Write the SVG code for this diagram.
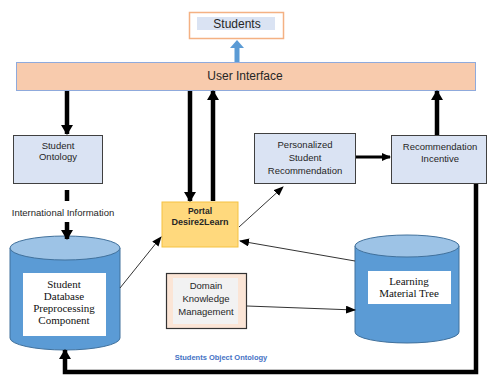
<svg xmlns="http://www.w3.org/2000/svg" width="488" height="375" viewBox="0 0 488 375">
<style>
text{font-family:"Liberation Sans","Open Sans",sans-serif;fill:#262626;text-anchor:middle}
.box{fill:#dae3f3;stroke:#404040;stroke-width:1}
.t9{font-size:9.5px}
.serif{font-family:"Liberation Serif","DejaVu Serif",serif;font-size:11px;fill:#111}
.thick{stroke:#000;stroke-width:4.5;fill:none}
.thin{stroke:#333;stroke-width:1;fill:none}
.cylbody{fill:#5b9bd5;stroke:#41719c;stroke-width:1}
.cyltop{fill:#9dc3e6;stroke:#41719c;stroke-width:1}
</style>
<defs>
<marker id="ah" markerUnits="userSpaceOnUse" markerWidth="12" markerHeight="12" refX="9" refY="6" orient="auto">
<path d="M0,0 L10,6 L0,12 z" fill="#000"/>
</marker>
<marker id="ahs" markerUnits="userSpaceOnUse" markerWidth="10" markerHeight="10" refX="8" refY="4" orient="auto">
<path d="M0,0 L9,4 L0,8 z" fill="#000"/>
</marker>
<marker id="at" markerUnits="userSpaceOnUse" markerWidth="10" markerHeight="10" refX="9" refY="4" orient="auto">
<path d="M0,0 L10,4 L0,8 z" fill="#000"/>
</marker>
</defs>

<g id="students">
<rect x="189.5" y="12.5" width="94" height="26" fill="#fff" stroke="#f4b183" stroke-width="1.5"/>
<rect x="197" y="17" width="78" height="13" fill="#dae3f3"/>
<text x="237" y="28" font-size="12">Students</text>
</g>

<g id="user-interface">
<rect x="16.5" y="62.5" width="459" height="28" fill="#f8cbad" stroke="#8faadc" stroke-width="1"/>
<text x="245" y="80" font-size="12">User Interface</text>
</g>

<g id="student-ontology">
<rect class="box" x="13.5" y="135.5" width="89" height="48"/>
<text class="t9" x="58" y="149">Student</text>
<text class="t9" x="58" y="160">Ontology</text>
</g>

<g id="portal">
<rect x="162" y="202" width="76" height="45" fill="#ffd97d" stroke="#f5c242" stroke-width="1"/>
<text x="200" y="214" font-size="8.5" font-weight="bold">Portal</text>
<text x="200" y="225" font-size="9" font-weight="bold">Desire2Learn</text>
</g>

<g id="personalized-recommendation">
<rect class="box" x="254.5" y="133.5" width="101" height="50"/>
<text class="t9" x="305" y="148">Personalized</text>
<text class="t9" x="305" y="161">Student</text>
<text class="t9" x="305" y="174">Recommendation</text>
</g>

<g id="recommendation-incentive">
<rect class="box" x="391.5" y="135.5" width="95" height="48"/>
<text class="t9" x="440" y="150">Recommendation</text>
<text class="t9" x="440" y="162">Incentive</text>
</g>

<g id="student-database">
<path class="cylbody" d="M10,248 V338 A55,12 0 0 0 120,338 V248 Z"/>
<ellipse class="cyltop" cx="65" cy="248" rx="55" ry="12"/>
<rect x="23" y="273" width="83" height="63" fill="#fff"/>
<text class="serif" x="64" y="288">Student</text>
<text class="serif" x="64" y="300">Database</text>
<text class="serif" x="64" y="312">Preprocessing</text>
<text class="serif" x="64" y="324">Component</text>
</g>

<g id="domain-knowledge">
<rect x="166.5" y="273.5" width="80" height="55" fill="#fbe5d6" stroke="#333" stroke-width="1.2"/>
<rect x="173" y="278" width="65" height="46" fill="#f2f2f2"/>
<text class="t9" x="206" y="289">Domain</text>
<text class="t9" x="206" y="302">Knowledge</text>
<text class="t9" x="206" y="315">Management</text>
</g>

<g id="learning-material-tree">
<path class="cylbody" d="M355,246 V332 A52,11 0 0 0 459,332 V246 Z"/>
<ellipse class="cyltop" cx="407" cy="246" rx="52" ry="11"/>
<rect x="368" y="271" width="83" height="33" fill="#fff"/>
<text class="serif" x="409" y="285">Learning</text>
<text class="serif" x="409" y="297">Material Tree</text>
</g>

<text x="221" y="360" font-size="7.5" font-weight="bold" style="fill:#4472c4">Students Object Ontology</text>
<text x="63" y="216" font-size="9.5">International Information</text>

<g id="connectors">
<path d="M234.5,62 V48 H230 L237,40 L244,48 H239.5 V62 Z" fill="#5b9bd5"/>
<line class="thick" x1="67" y1="91" x2="67" y2="134" marker-end="url(#ah)"/>
<line class="thick" x1="67" y1="190" x2="67" y2="201"/>
<line class="thick" x1="67" y1="222" x2="67" y2="239" marker-end="url(#ah)"/>
<line class="thick" x1="190" y1="91" x2="190" y2="201" marker-end="url(#ah)"/>
<line class="thick" x1="213" y1="201" x2="213" y2="91" marker-end="url(#ah)"/>
<line stroke="#000" stroke-width="3" x1="356" y1="157" x2="390" y2="157" marker-end="url(#ahs)"/>
<line class="thick" x1="437" y1="135" x2="437" y2="91" marker-end="url(#ah)"/>
<path class="thick" d="M476,184 V372 H65 V350" marker-end="url(#ah)"/>
<line class="thin" x1="120" y1="288" x2="161" y2="237" marker-end="url(#at)"/>
<line class="thin" x1="239" y1="227" x2="283" y2="187" marker-end="url(#at)"/>
<line class="thin" x1="355" y1="261" x2="240" y2="241" marker-end="url(#at)"/>
<line class="thin" x1="247" y1="306" x2="355" y2="310" marker-end="url(#at)"/>
</g>
</svg>
